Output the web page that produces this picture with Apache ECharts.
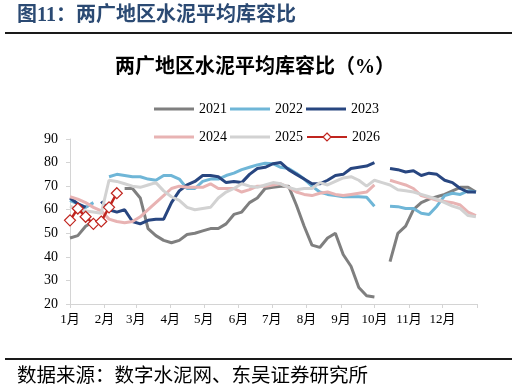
<!DOCTYPE html>
<html>
<head>
<meta charset="utf-8">
<script src="https://cdn.jsdelivr.net/npm/echarts@6/dist/echarts.min.js"></script>
<style>
html,body{margin:0;padding:0;background:#fff;}
#chart{width:518px;height:387px;}
</style>
</head>
<body>
<div id="chart"></div>
<script>
// x positions: day of year of each weekly observation
const weekDays = [0,7,14,21,28,35,42,49,56,63,70,77,84,91,98,105,112,119,126,133,140,147,154,161,168,175,182,189,196,203,210,217,224,231,238,245,252,259,266,273,280,287,294,301,308,315,322,329,336,343,350,357,364];
const monthStartDays = [0,31,59,90,120,151,181,212,243,273,304,334,365];
const monthLabels = ['1月','2月','3月','4月','5月','6月','7月','8月','9月','10月','11月','12月'];
const yTicks = [20,30,40,50,60,70,80,90];

const s2021 = [48,49,53,55,null,null,null,69,69,65,52,49,47,46,47,49.5,50,51,52,52,54,58,59,63,65,69,69.5,70,70,62,53,45,44,48,50,41,36,27,23.5,23,null,38,50,53,60,63,64.5,65.5,66.5,68,69.5,69.5,67.5];
const s2022 = [64,62.5,61,63,null,74,75,74.5,74,74,73,72.5,74.5,74.5,73,69,69,72,73,73,74.5,75.5,77,78,79,79.7,79.5,78,77.5,75.5,73,70,67.5,66.5,66,65.5,65.5,65.5,65.3,61.5,null,61.5,61.3,60.5,60.5,58.5,58,61.5,66,67,66.5,68,67.5];
const s2023 = [65,62.5,61,null,63.5,60,59,60,55,54,55.5,56,56,63,68,70.5,72,74.5,74.5,74,71.5,72,71.5,75,77.5,78,79.5,80,77,75,73,71,71,72.5,74.5,75,77.5,78,78.5,80,null,77.5,77,76,76.5,74.5,75.5,75,72.5,71.5,69,67.5,67.5];
const s2024 = [65.5,64.5,63,61,59.5,56,55,54.5,55,57,60,63,66,69,70,69.5,69.5,69.5,71,69,69,69,67.5,68.5,70,70,70.5,71,69.5,67.5,66.5,66,67,67.5,66.5,66,66.5,67,67.5,70.5,null,72.5,71.5,70.5,69,66,65,64,63.5,63,62,59,57.5];
const s2025 = [61.5,60,59.5,59,58.5,72.5,72,71,70,69.5,70.5,71.5,68,65.5,64,61,60,60.5,61,65,67.5,69,71,70,69.5,70.5,71.5,71,69.5,68.5,69,69,71.5,70.5,72,73.5,74,72.5,70,72.5,71.5,70.5,68.5,68,67.5,66.5,65.5,64.5,63,61.5,60.5,57.5,57];
const s2026 = [55.5,60.5,57,54,55,61,67];

const seriesNames = ['2021','2022','2023','2024','2025','2026'];
const seriesValues = [s2021,s2022,s2023,s2024,s2025,s2026];
const colors = ['#7f7f7f','#6fb6d7','#284680','#e8b3b3','#d2d2d2','#c0251f'];

const FONT = '"Liberation Serif","Noto Sans CJK SC",serif';

function pairs(vals){
  return vals.map((v,i)=>[weekDays[i], v]);
}

const series = seriesValues.map((vals,k)=>{
  const isRed = k===5;
  return {
    name: seriesNames[k],
    type: 'line',
    data: pairs(vals),
    connectNulls: false,
    smooth: false,
    showSymbol: isRed,
    symbol: isRed ? 'diamond' : 'none',
    symbolSize: 11,
    itemStyle: isRed ? {color: '#ffffff', borderColor: colors[k], borderWidth: 1.2} : {color: colors[k]},
    lineStyle: {color: colors[k], width: isRed ? 2.5 : 3},
    z: 2 + k,
    animation: false
  };
});

const legendText = {fontFamily: FONT, fontSize: 14, color: '#000'};

const option = {
  animation: false,
  color: colors,
  textStyle: {fontFamily: FONT},
  grid: {left: 70, right: 41, top: 139, bottom: 83, containLabel: false},
  legend: [
    {data: seriesNames.slice(0,3), left: 149, top: 97, icon: 'rect', itemWidth: 40, itemHeight: 3, itemGap: 3, textStyle: legendText},
    {data: seriesNames.slice(3,5), left: 149, top: 125, icon: 'rect', itemWidth: 40, itemHeight: 3, itemGap: 3, textStyle: legendText},
    {data: [{name: seriesNames[5], itemStyle: {color: '#ffffff', borderColor: colors[5], borderWidth: 1.2}}],
     left: 301, top: 125, itemWidth: 40, itemHeight: 10, textStyle: legendText}
  ],
  xAxis: {
    type: 'value',
    min: 0,
    max: 365,
    axisLine: {show: true, lineStyle: {color: '#d4d4d4', width: 1}},
    axisTick: {show: true, length: 4, inside: false, customValues: monthStartDays, lineStyle: {color: '#d4d4d4'}},
    axisLabel: {
      customValues: monthStartDays.slice(0,12),
      formatter: function(v){ const i = monthStartDays.indexOf(v); return i>=0 && i<12 ? monthLabels[i] : ''; },
      fontFamily: FONT, fontSize: 13, color: '#000', margin: 9
    },
    splitLine: {show: false}
  },
  yAxis: {
    type: 'value',
    min: yTicks[0],
    max: yTicks[yTicks.length-1],
    interval: 10,
    axisLine: {show: true, lineStyle: {color: '#d4d4d4', width: 1}},
    axisTick: {show: true, length: 4, inside: false, lineStyle: {color: '#d4d4d4'}},
    axisLabel: {fontFamily: FONT, fontSize: 14, color: '#000', margin: 12},
    splitLine: {show: false}
  },
  graphic: [
    {type: 'text', x: 17, y: 16, style: {text: '图11：两广地区水泥平均库容比', font: 'bold 20px ' + FONT, fill: '#2b4a73', verticalAlign: 'middle'}},
    {type: 'line', shape: {x1: 5, y1: 33, x2: 512, y2: 33}, style: {stroke: '#1a1a1a', lineWidth: 2}},
    {type: 'text', x: 255, y: 68, style: {text: '两广地区水泥平均库容比（%）', font: 'bold 20px ' + FONT, fill: '#000', align: 'center', verticalAlign: 'middle'}},
    {type: 'line', shape: {x1: 5, y1: 359, x2: 512, y2: 359}, style: {stroke: '#1a1a1a', lineWidth: 2}},
    {type: 'text', x: 17, y: 377, style: {text: '数据来源：数字水泥网、东吴证券研究所', font: '19.5px ' + FONT, fill: '#000', verticalAlign: 'middle'}}
  ],
  series: series
};

const chart = echarts.init(document.getElementById('chart'), null, {renderer: 'canvas'});
chart.setOption(option);
</script>
</body>
</html>
